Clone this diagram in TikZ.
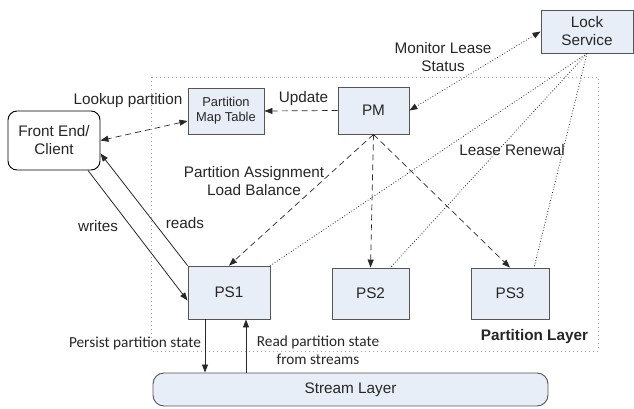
\documentclass[tikz,border=0pt]{standalone}
\usepackage{fontspec}
\setmainfont{Liberation Sans}
\newfontfamily\calib{Carlito}
\usetikzlibrary{arrows.meta}
\definecolor{boxfill}{RGB}{232,238,247}
\definecolor{boxline}{RGB}{85,85,85}
\definecolor{txt}{RGB}{38,38,38}
\definecolor{lnc}{RGB}{40,40,40}
\tikzset{
  blk/.style={draw=boxline, line width=0.9pt, fill=boxfill, inner sep=0pt, align=center, text=txt, font=\fontsize{15.3}{18}\selectfont},
  lbl/.style={text=txt, align=center, inner sep=0pt, font=\fontsize{15.3}{18}\selectfont},
  clbl/.style={text=txt, align=center, inner sep=0pt, font=\calib\fontsize{15.3}{18}\selectfont},
  tip/.style={-{Triangle[length=8pt,width=6pt]}},
  bitip/.style={{Triangle[length=8pt,width=6pt]}-{Triangle[length=8pt,width=6pt]}},
  dsh/.style={draw=lnc, line width=0.7pt, dash pattern=on 6pt off 4pt},
  dtt/.style={draw=lnc, line width=0.8pt, dash pattern=on 0.8pt off 2pt},
  sld/.style={draw=lnc, line width=0.8pt}
}
\begin{document}
\begin{tikzpicture}[x=1pt,y=-1pt]
\useasboundingbox (0,0) rectangle (634,409);
% partition layer boundary
\draw[gray!70, line width=0.8pt, dash pattern=on 0.8pt off 3.2pt] (151,77) rectangle (598,351);
% nodes
\node[blk, rounded corners=9pt, fill=white, draw=black, minimum width=92pt, minimum height=59pt] (fe) at (54,140.5) {Front End/\\Client};
\node[blk, minimum width=76pt, minimum height=46pt, font=\fontsize{12.9}{15}\selectfont] (pmt) at (226,111) {Partition\\Map Table};
\node[blk, minimum width=71pt, minimum height=47pt] (pm) at (373.5,110.5) {PM};
\node[blk, minimum width=92pt, minimum height=43pt] (lock) at (587,31.5) {Lock\\Service};
\node[blk, minimum width=82pt, minimum height=53pt] (ps1) at (229,292.5) {PS1};
\node[blk, minimum width=77pt, minimum height=51pt] (ps2) at (370.5,293.5) {PS2};
\node[blk, minimum width=78pt, minimum height=51pt] (ps3) at (510,293.5) {PS3};
\node[blk, rounded corners=11pt, minimum width=395pt, minimum height=33pt] (stream) at (350.5,389.5) {Stream Layer};
% connectors
\draw[dsh, bitip] ([yshift=-10pt]pmt.west) -- (fe.east);
\draw[dsh, tip] (pm.west) -- (pmt.east);
\draw[dtt, bitip] (lock.west) -- (pm.east);
\draw[dtt] (lock.south) -- (ps1.north east);
\draw[dtt] (lock.south) -- ([xshift=20pt]ps2.north);
\draw[dtt] (lock.south) -- ([xshift=24pt]ps3.north);
\draw[dsh, tip] (pm.south) -- (ps1.north);
\draw[dsh, tip] (pm.south) -- (ps2.north);
\draw[dsh, tip] (pm.south) -- (ps3.north);
\draw[sld, tip] ([xshift=34pt]fe.south) -- ([yshift=-8pt]ps1.west);
\draw[sld, tip] (ps1.north west) -- ([yshift=-13pt]fe.east);
\coordinate (p1) at ([xshift=-24pt]ps1.south);
\coordinate (p2) at ([xshift=17pt]ps1.south);
\draw[sld, tip] (p1) -- (p1 |- stream.north);
\draw[sld, tip] (p2 |- stream.north) -- (p2);
% labels
\node[lbl] (l1) at (128,101) {Lookup partition};
\node[lbl] (l2) at (303.5,99) {Update};
\node[lbl] (l3) at (443,57) {Monitor Lease\\Status};
\node[lbl] (l4) at (512,150) {Lease Renewal};
\node[lbl] (l5) at (254,181) {Partition Assignment\\Load Balance};
\node[lbl] (l6) at (98,226) {writes};
\node[lbl] (l7) at (185,223) {reads};
\node[clbl] (l8) at (135,343) {Persist partition state};
\node[clbl] (l9) at (318,350) {Read partition state\\from streams};
\node[lbl, font=\bfseries\fontsize{15.3}{18}\selectfont] (l10) at (534.5,337) {Partition Layer};
\end{tikzpicture}
\end{document}
